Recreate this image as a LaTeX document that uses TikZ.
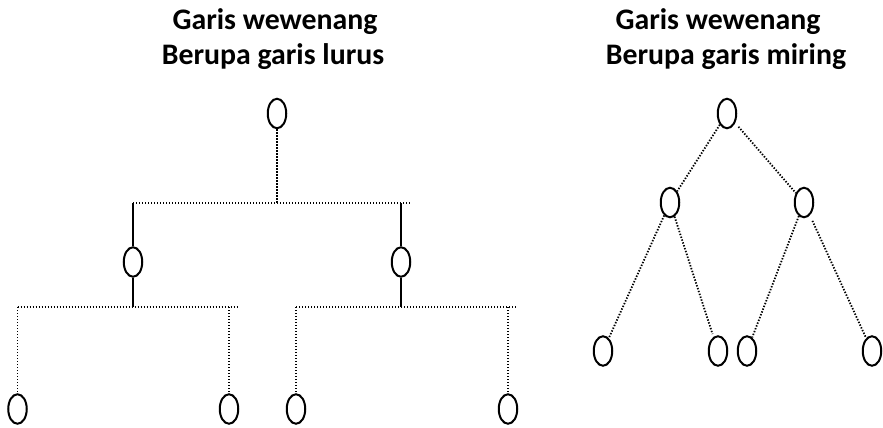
\documentclass[tikz,border=0pt]{standalone}
\usepackage{fontspec}
\setmainfont{Carlito}
\usetikzlibrary{shapes.geometric}
\tikzset{
  oval/.style={draw, ellipse, line width=2pt, inner sep=0pt, minimum width=18.5pt, minimum height=29.5pt},
  dotline/.style={line width=1.8pt, dash pattern=on 1.4pt off 1.6pt},
  solidline/.style={line width=2pt},
  title/.style={anchor=base, font=\fontsize{29.8}{34}\selectfont\bfseries, inner sep=0pt}
}
\begin{document}
\begin{tikzpicture}[x=1pt,y=-1pt]
\useasboundingbox (0,0) rectangle (883,428);
% titles
\node[title] (tl1) at (275,30) {Garis wewenang};
\node[title] (tl2) at (273,64) {Berupa garis lurus};
\node[title] (tr1) at (718,30) {Garis wewenang};
\node[title] (tr2) at (726,64) {Berupa garis miring};
% left tree nodes
\node[oval] (t) at (277,113.5) {};
\node[oval] (m1) at (133,262) {};
\node[oval] (m2) at (401,262) {};
\node[oval] (b1) at (17.5,409) {};
\node[oval] (b2) at (229,409) {};
\node[oval] (b3) at (296,409) {};
\node[oval] (b4) at (508,409) {};
% junctions
\coordinate (j0) at (277,203);
\coordinate (jl) at (133,203);
\coordinate (jr) at (401,203);
\coordinate (je) at (411,203);
\coordinate (kl0) at (133,307);
\coordinate (kl1) at (17.5,307);
\coordinate (kl2) at (229,307);
\coordinate (kle) at (239,307);
\coordinate (kr0) at (401,307);
\coordinate (kr1) at (296,307);
\coordinate (kr2) at (508,307);
\coordinate (kre) at (517,307);
\draw[dotline] (t) -- (j0);
\draw[dotline] (jl) -- (je);
\draw[solidline] (jl) -- (m1);
\draw[solidline] (m1) -- (kl0);
\draw[solidline] (jr) -- (m2);
\draw[solidline] (m2) -- (kr0);
\draw[dotline] (kl1) -- (kle);
\draw[dotline] (kr1) -- (kre);
\draw[dotline] (kl1) -- (b1);
\draw[dotline] (kl2) -- (b2);
\draw[dotline] (kr1) -- (b3);
\draw[dotline] (kr2) -- (b4);
% right tree
\node[oval] (rt) at (727,113.5) {};
\node[oval] (rm1) at (670,202.5) {};
\node[oval] (rm2) at (804,202.5) {};
\node[oval] (rb1) at (603,351) {};
\node[oval] (rb2) at (718,351) {};
\node[oval] (rb3) at (747,351) {};
\node[oval] (rb4) at (872,351) {};
\draw[dotline] (rt) -- (rm1);
\draw[dotline, shorten <=5pt] (rt) -- (rm2);
\draw[dotline] (rm1) -- (rb1);
\draw[dotline, shorten >=3pt] (rm1) -- (rb2);
\draw[dotline] (rm2) -- (rb3);
\draw[dotline, shorten <=6pt] (rm2) -- (rb4);
\end{tikzpicture}
\end{document}
